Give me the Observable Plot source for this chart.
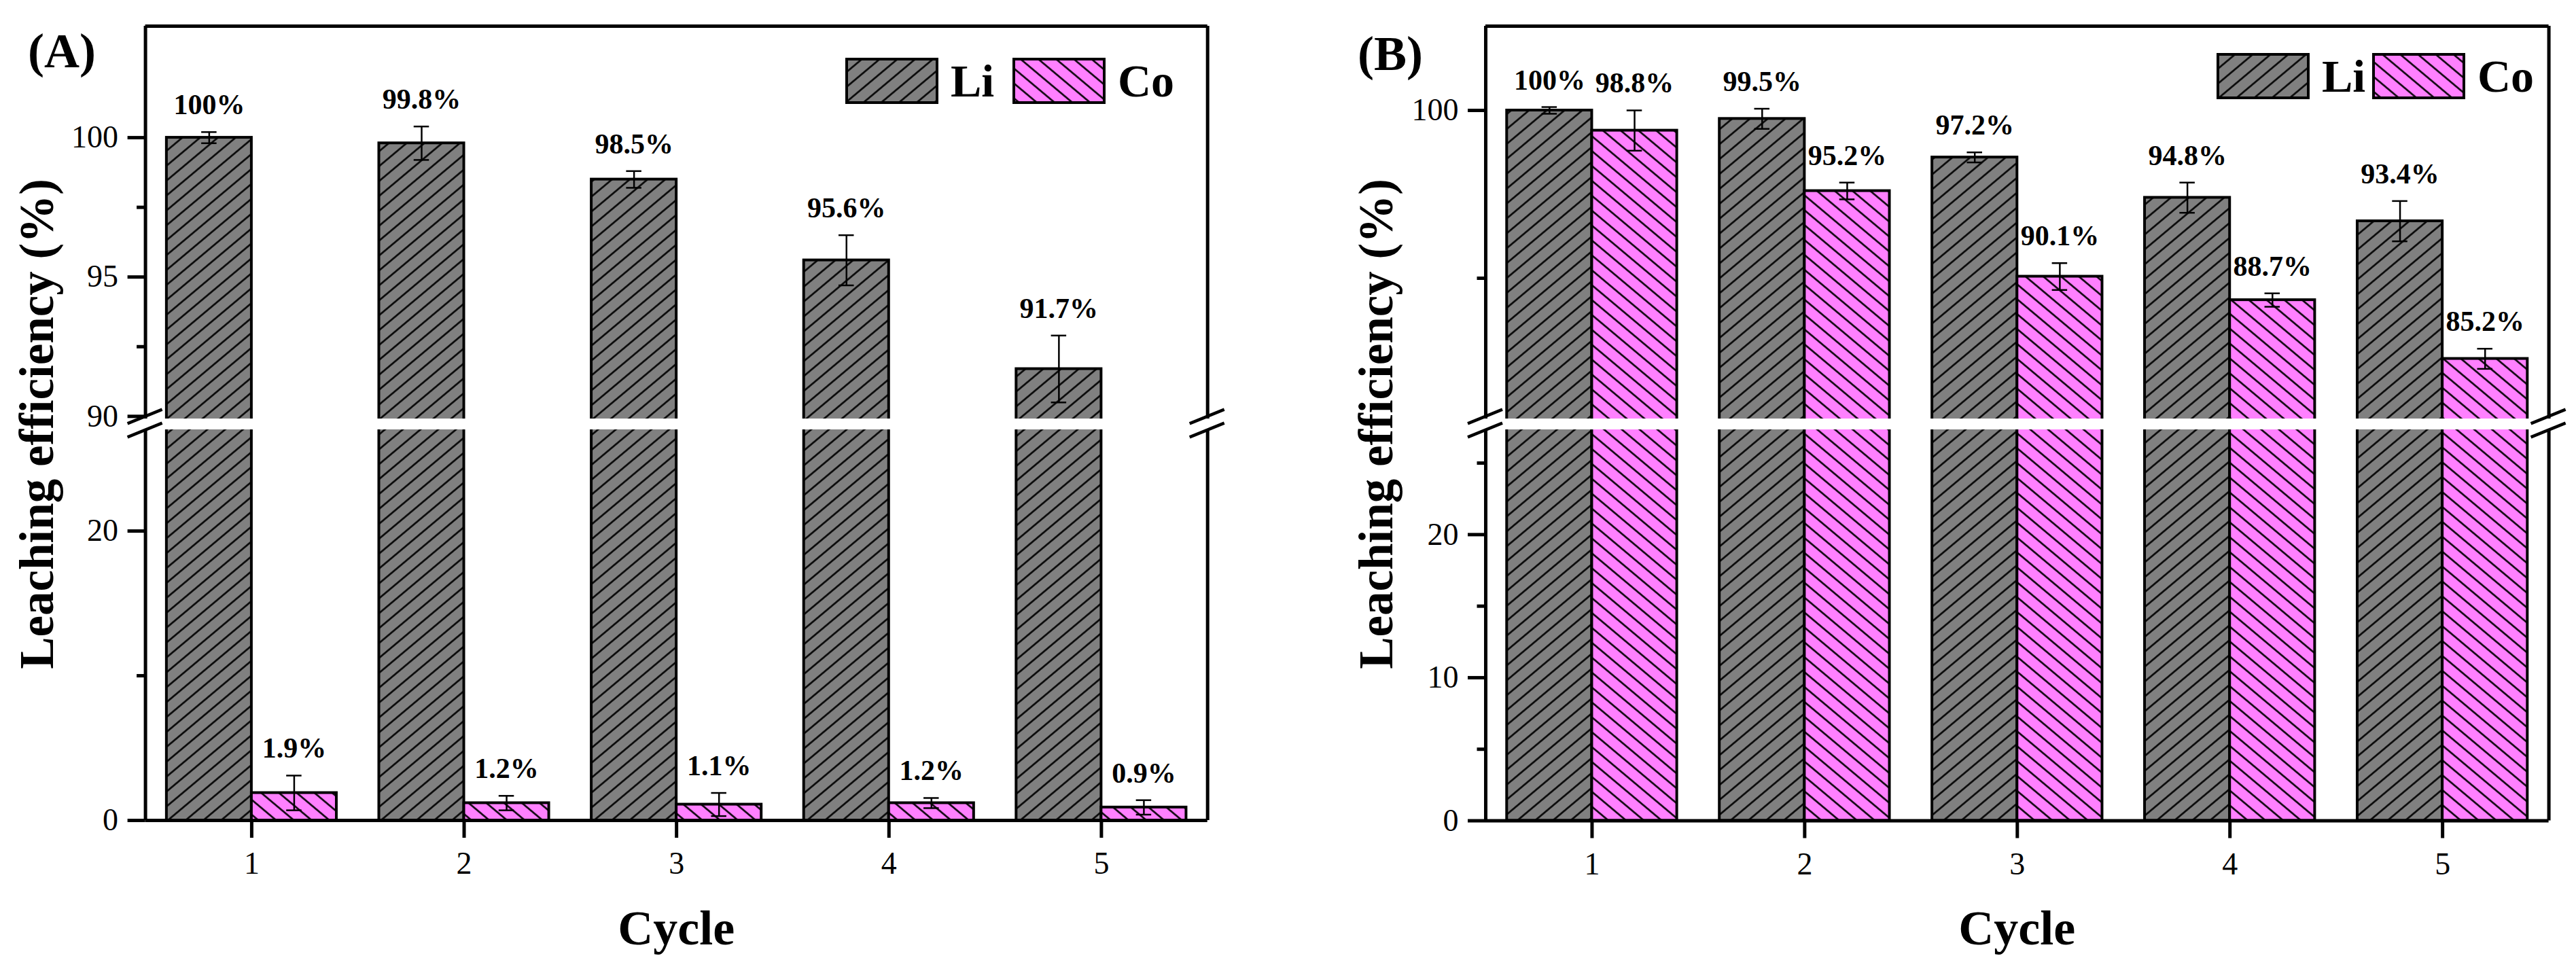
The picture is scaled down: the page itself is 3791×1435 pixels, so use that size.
<!DOCTYPE html>
<html>
<head>
<meta charset="utf-8">
<script src="https://cdn.jsdelivr.net/npm/d3@7"></script>
<script src="https://cdn.jsdelivr.net/npm/@observablehq/plot@0.6"></script>
<style>
html, body { margin: 0; padding: 0; background: #fff; overflow: hidden; }
#chart { position: relative; width: 3791px; height: 1435px; background: #fff; }
#chart > svg { position: absolute; left: 0; top: 0; }
</style>
</head>
<body>
<div id="chart"></div>
<script>
// ---------------- data ----------------
const cycles = [1, 2, 3, 4, 5];
const metals = ["Li", "Co"];

// Panel (A)
const liA = [100, 99.8, 98.5, 95.6, 91.7];
const liAErr = [0.2, 0.6, 0.3, 0.9, 1.2];
const coA = [1.9, 1.2, 1.1, 1.2, 0.9];
const coAErr = [1.2, 0.5, 0.8, 0.35, 0.5];

// Panel (B)
const liB = [100, 99.5, 97.2, 94.8, 93.4];
const liBErr = [0.2, 0.6, 0.3, 0.9, 1.2];
const coB = [98.8, 95.2, 90.1, 88.7, 85.2];
const coBErr = [1.2, 0.5, 0.8, 0.4, 0.6];

// axis ticks
const ticksAUpper = [90, 95, 100];
const minorAUpper = [92.5, 97.5];
const ticksALower = [0, 20];
const minorALower = [10];
const ticksBUpper = [100];
const minorBUpper = [90];
const ticksBLower = [0, 10, 20];
const minorBLower = [5, 15, 25];

// broken-axis domains
const domAUpper = [89.91, 104];
const domALower = [0, 27.0];
const domBUpper = [81.62, 105.02];
const domBLower = [0, 27.33];

const yTitle = "Leaching efficiency (%)";
const xTitle = "Cycle";

// ---------------- layout ----------------
const W = 3791, H = 1435;
const layoutA = {left: 213.6, right: 1776.7, top: 38, gapTop: 616, gapBottom: 632, bottom: 1207};
const layoutB = {left: 2186, right: 3750.6, top: 38, gapTop: 616, gapBottom: 632, bottom: 1207.5};
const FONT = "'Liberation Serif', 'Times New Roman', serif";
const fills = {Li: "url(#hatchLi)", Co: "url(#hatchCo)"};
const barW = 0.4;

const chart = document.getElementById("chart");

// hatch patterns
const defs = d3.select(chart).append("svg").attr("width", 0).attr("height", 0).style("position", "absolute");
const dd = defs.append("defs");
function hatch(id, color, angle) {
  const s = 16.8;
  const p = dd.append("pattern").attr("id", id).attr("patternUnits", "userSpaceOnUse")
    .attr("width", s).attr("height", s).attr("patternTransform", `rotate(${angle})`);
  p.append("rect").attr("width", s).attr("height", s).attr("fill", color);
  p.append("line").attr("x1", -1).attr("x2", s + 1).attr("y1", s / 2).attr("y2", s / 2)
    .attr("stroke", "#000").attr("stroke-width", 2.5);
}
hatch("hatchLi", "#808080", -40);
hatch("hatchCo", "#FF80FF", 40);

function rowsOf(li, liE, co, coE) {
  return [
    ...cycles.map((c, i) => ({cycle: c, metal: "Li", value: li[i], err: liE[i]})),
    ...cycles.map((c, i) => ({cycle: c, metal: "Co", value: co[i], err: coE[i]}))
  ];
}
const rowsA = rowsOf(liA, liAErr, coA, coAErr);
const rowsB = rowsOf(liB, liBErr, coB, coBErr);

const center = d => d.cycle + (d.metal === "Li" ? -barW / 2 : barW / 2);
const fmtPct = v => (v === 100 ? "100" : d3.format(".1f")(v)) + "%";

function segment(layout, rows, domain, majors, minors, isUpper) {
  const inside = rows.filter(d => d.value >= domain[0] && d.value <= domain[1]);
  const top = isUpper ? layout.top : layout.gapBottom;
  const bottom = isUpper ? layout.gapTop : layout.bottom;
  const marks = [];
  for (const m of metals) {
    marks.push(Plot.rect(rows.filter(d => d.metal === m), {
      x1: d => m === "Li" ? d.cycle - barW : d.cycle,
      x2: d => m === "Li" ? d.cycle : d.cycle + barW,
      y1: 0, y2: "value",
      fill: fills[m], stroke: "#000", strokeWidth: 4, clip: "frame"
    }));
  }
  marks.push(
    Plot.ruleX(inside, {x: center, y1: d => d.value - d.err, y2: d => d.value + d.err, stroke: "#000", strokeWidth: 2.5}),
    Plot.ruleY(inside, {y: d => d.value + d.err, x1: d => center(d) - 0.036, x2: d => center(d) + 0.036, stroke: "#000", strokeWidth: 2.5}),
    Plot.ruleY(inside, {y: d => d.value - d.err, x1: d => center(d) - 0.036, x2: d => center(d) + 0.036, stroke: "#000", strokeWidth: 2.5}),
    Plot.text(inside, {x: center, y: d => d.value + d.err, text: d => fmtPct(d.value), lineAnchor: "bottom", dy: -26,
      fontWeight: "bold", fontSize: 42, fontFamily: FONT, fill: "#000"}),
    Plot.ruleX([0.5, 5.5], {stroke: "#000", strokeWidth: 5}),
    Plot.ruleY([isUpper ? domain[1] : 0], {stroke: "#000", strokeWidth: 5}),
    Plot.axisY(majors, {anchor: "left", tickSize: 26, tickPadding: 14, strokeWidth: 5, fontSize: 46, fontFamily: FONT,
      fill: "#000", tickFormat: d => String(d), label: null}),
    Plot.axisY(minors, {anchor: "left", tickSize: 12.5, strokeWidth: 5, tickFormat: () => "", label: null})
  );
  if (!isUpper) {
    marks.push(Plot.axisX(cycles, {anchor: "bottom", tickSize: 26, tickPadding: 20, strokeWidth: 5, fontSize: 46,
      fontFamily: FONT, fill: "#000", tickFormat: d => String(d), label: null}));
  }
  return Plot.plot({
    width: W, height: H,
    marginLeft: layout.left, marginRight: W - layout.right,
    marginTop: top, marginBottom: H - bottom,
    x: {domain: [0.5, 5.5], axis: isUpper ? null : undefined, label: null},
    y: {domain, label: null},
    style: {fontFamily: FONT, fontSize: "46px", color: "#000", background: "none", overflow: "visible"},
    marks
  });
}

chart.appendChild(segment(layoutA, rowsA, domAUpper, ticksAUpper, minorAUpper, true));
chart.appendChild(segment(layoutA, rowsA, domALower, ticksALower, minorALower, false));
chart.appendChild(segment(layoutB, rowsB, domBUpper, ticksBUpper, minorBUpper, true));
chart.appendChild(segment(layoutB, rowsB, domBLower, ticksBLower, minorBLower, false));

// ---------------- overlay: titles, legends, break marks ----------------
const ov = d3.select(chart).append("svg").attr("width", W).attr("height", H)
  .style("font-family", FONT);

function decorate(layout, tag, tagX, tagY, yTitleX, legend) {
  ov.append("text").attr("x", tagX).attr("y", tagY).attr("font-size", 72).attr("font-weight", "bold").text(tag);
  const midY = (layout.gapTop + layout.gapBottom) / 2;
  ov.append("text").attr("transform", `translate(${yTitleX},${midY}) rotate(-90)`)
    .attr("text-anchor", "middle").attr("font-size", 71).attr("font-weight", "bold").text(yTitle);
  ov.append("text").attr("x", (layout.left + layout.right) / 2).attr("y", 1390)
    .attr("text-anchor", "middle").attr("font-size", 72).attr("font-weight", "bold").text(xTitle);
  // break marks
  for (const xe of [layout.left, layout.right]) {
    for (const yc of [layout.gapTop - 3, layout.gapBottom + 1]) {
      ov.append("line").attr("x1", xe - 26).attr("y1", yc + 10.3).attr("x2", xe + 25).attr("y2", yc - 10.3)
        .attr("stroke", "#000").attr("stroke-width", 4.5);
    }
  }
  // legend
  metals.forEach((m, i) => {
    const bx = legend.x + i * legend.step;
    ov.append("rect").attr("x", bx).attr("y", legend.y).attr("width", 133).attr("height", 64)
      .attr("fill", fills[m]).attr("stroke", "#000").attr("stroke-width", 4);
    ov.append("text").attr("x", bx + 153).attr("y", legend.y + 55).attr("font-size", 68)
      .attr("font-weight", "bold").text(m);
  });
}
decorate(layoutA, "(A)", 41, 99, 78, {x: 1246, y: 87, step: 246});
decorate(layoutB, "(B)", 1998, 103, 2049, {x: 3264, y: 80, step: 229});
</script>
</body>
</html>
